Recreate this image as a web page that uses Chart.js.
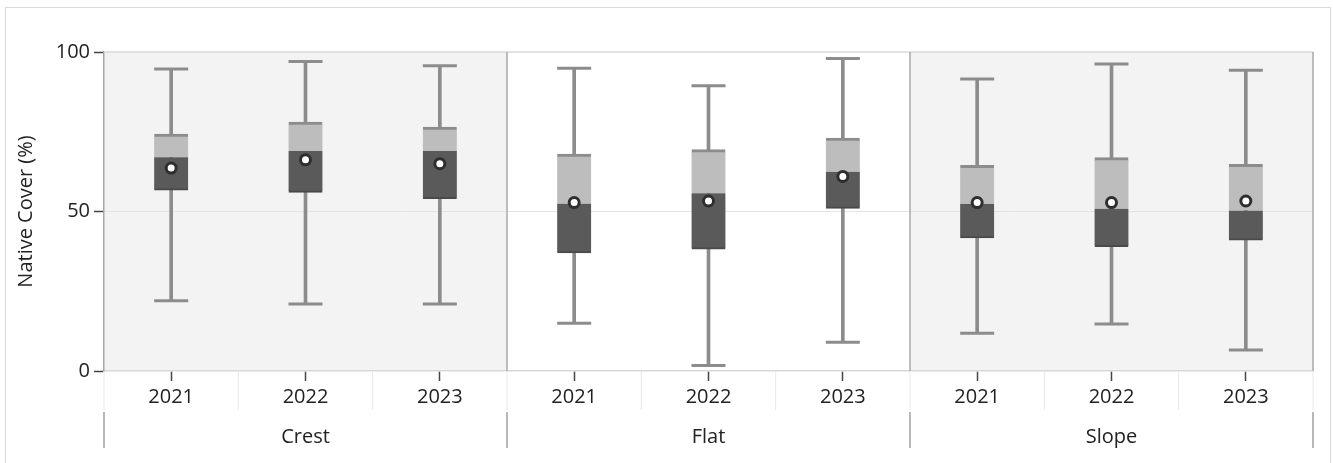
<!DOCTYPE html>
<html>
<head>
<title>Native Cover by Zone and Year</title>
<script src="https://cdn.jsdelivr.net/npm/chart.js"></script>
<style>
  body { margin: 0; background: #fff; }
  .frame { position: absolute; left: 5px; top: 7px; width: 1324px; height: 470px; border: 1px solid #dadada; pointer-events: none; }
  #wrap { position: absolute; left: 0; top: 0; width: 1333px; height: 463px; }
</style>
</head>
<body>
<div class="frame"></div>
<div id="wrap"><canvas id="chart" width="1333" height="463"></canvas></div>
<script>
const groups = ['Crest', 'Flat', 'Slope'];
const years = ['2021', '2022', '2023'];
const shaded = [true, false, true];

// one value per box: Crest 2021..2023, Flat 2021..2023, Slope 2021..2023
const whiskerLow  = [22, 21, 21, 15, 1.7, 9, 11.8, 14.7, 6.6];
const q1          = [56.7, 56, 54, 37, 38.2, 51, 41.7, 39, 41];
const median      = [67, 69, 69, 52.5, 55.7, 62.5, 52.4, 50.9, 50.3];
const q3          = [74.3, 78, 76.5, 68, 69.4, 73, 64.5, 66.9, 64.8];
const whiskerHigh = [94.7, 97, 95.7, 94.9, 89.4, 98, 91.5, 96.2, 94.3];
const means       = [63.6, 66.2, 65, 52.8, 53.3, 61, 52.8, 52.8, 53.3];

const labels = groups.flatMap(() => years);
const FONT = "'Open Sans', 'Noto Sans', sans-serif";

// panel shading, frame lines and the second row of x labels
const panels = {
  id: 'panels',
  beforeDraw(chart) {
    const {ctx, chartArea: a, scales: {x}} = chart;
    const n = years.length;
    ctx.save();
    ctx.fillStyle = '#f3f3f3';
    groups.forEach((g, gi) => {
      if (!shaded[gi]) return;
      const l = x.getPixelForValue(gi * n - 0.5);
      const r = x.getPixelForValue(gi * n + n - 0.5);
      ctx.fillRect(l, a.top, r - l, a.bottom - a.top);
    });
    ctx.restore();
  },
  beforeDatasetsDraw(chart) {
    const {ctx, chartArea: a, scales: {x}} = chart;
    const n = years.length;
    ctx.save();
    ctx.strokeStyle = '#d8d8d8';
    ctx.lineWidth = 1.5;
    ctx.beginPath();
    ctx.moveTo(a.left, a.top);
    ctx.lineTo(a.right, a.top);
    ctx.stroke();
    ctx.strokeStyle = '#a8a8a8';
    for (let gi = 1; gi <= groups.length; gi++) {
      const px = x.getPixelForValue(gi * n - 0.5);
      ctx.beginPath();
      ctx.moveTo(px, a.top);
      ctx.lineTo(px, a.bottom);
      ctx.stroke();
    }
    ctx.restore();
  },
  afterDraw(chart) {
    const {ctx, chartArea: a, scales: {x}} = chart;
    const n = years.length;
    ctx.save();
    ctx.strokeStyle = '#e8e8e8';
    ctx.lineWidth = 1;
    for (let i = 0; i <= labels.length; i++) {
      const px = x.getPixelForValue(i - 0.5);
      ctx.beginPath();
      ctx.moveTo(px, a.bottom);
      ctx.lineTo(px, a.bottom + 39);
      ctx.stroke();
    }
    ctx.strokeStyle = '#a0a0a0';
    ctx.lineWidth = 1.5;
    for (let gi = 0; gi <= groups.length; gi++) {
      const px = x.getPixelForValue(gi * n - 0.5);
      ctx.beginPath();
      ctx.moveTo(px, a.bottom + 41);
      ctx.lineTo(px, a.bottom + 77);
      ctx.stroke();
    }
    ctx.fillStyle = '#222';
    ctx.font = '20px ' + FONT;
    ctx.textAlign = 'center';
    ctx.textBaseline = 'middle';
    groups.forEach((g, gi) => {
      const px = x.getPixelForValue(gi * n + (n - 1) / 2);
      ctx.fillText(g, px, a.bottom + 66);
    });
    ctx.restore();
  }
};

new Chart(document.getElementById('chart'), {
  data: {
    labels: labels,
    datasets: [
      {
        type: 'bar', grouped: false, order: 6,
        data: whiskerLow.map((v, i) => [v, whiskerHigh[i]]),
        backgroundColor: '#8c8c8c', barThickness: 3
      },
      {
        type: 'line', showLine: false, order: 5,
        data: whiskerLow,
        pointStyle: 'line', pointRadius: 17, pointHoverRadius: 17,
        pointBorderWidth: 3, pointBorderColor: '#8c8c8c'
      },
      {
        type: 'line', showLine: false, order: 5,
        data: whiskerHigh,
        pointStyle: 'line', pointRadius: 17, pointHoverRadius: 17,
        pointBorderWidth: 3, pointBorderColor: '#8c8c8c'
      },
      {
        type: 'bar', grouped: false, order: 3,
        data: q1.map((v, i) => [v, median[i]]),
        backgroundColor: '#5a5a5a', barThickness: 34,
        borderColor: '#4a4a4a', borderWidth: {top: 0, bottom: 2, left: 0, right: 0}, borderSkipped: false
      },
      {
        type: 'bar', grouped: false, order: 3,
        data: median.map((v, i) => [v, q3[i]]),
        backgroundColor: '#bdbdbd', barThickness: 34,
        borderColor: '#8c8c8c', borderWidth: {top: 3, bottom: 0, left: 0, right: 0}, borderSkipped: false
      },
      {
        type: 'line', showLine: false, order: 1,
        data: means,
        pointStyle: 'circle', pointRadius: 5, pointHoverRadius: 5,
        pointBorderWidth: 3, pointBorderColor: '#2e2e2e', pointBackgroundColor: '#ffffff'
      }
    ]
  },
  options: {
    responsive: false,
    animation: false,
    events: [],
    layout: { padding: { top: 52, right: 20, left: 0, bottom: 0 } },
    plugins: { legend: { display: false }, tooltip: { enabled: false } },
    scales: {
      x: {
        offset: true,
        grid: { offset: false, drawOnChartArea: false, tickLength: 10, tickColor: '#444', tickWidth: 1.5 },
        border: { color: '#d8d8d8', width: 1.5 },
        ticks: { color: '#222', font: { family: FONT, size: 20 }, padding: 4, maxRotation: 0, autoSkip: false },
        afterFit: s => { s.height = 92; }
      },
      y: {
        min: 0, max: 100,
        grid: {
          color: c => c.tick.value === 50 ? '#e3e3e3' : 'transparent',
          tickColor: '#444', tickLength: 10, tickWidth: 1.5
        },
        border: { color: '#a8a8a8', width: 1.5 },
        ticks: { stepSize: 50, color: '#222', font: { family: FONT, size: 20 }, padding: 4 },
        title: {
          display: true, text: 'Native Cover (%)', color: '#222',
          font: { family: FONT, size: 20 }, padding: { top: 14, bottom: 0 }
        },
        afterFit: s => { s.width = 104; }
      }
    }
  },
  plugins: [panels]
});
</script>
</body>
</html>
